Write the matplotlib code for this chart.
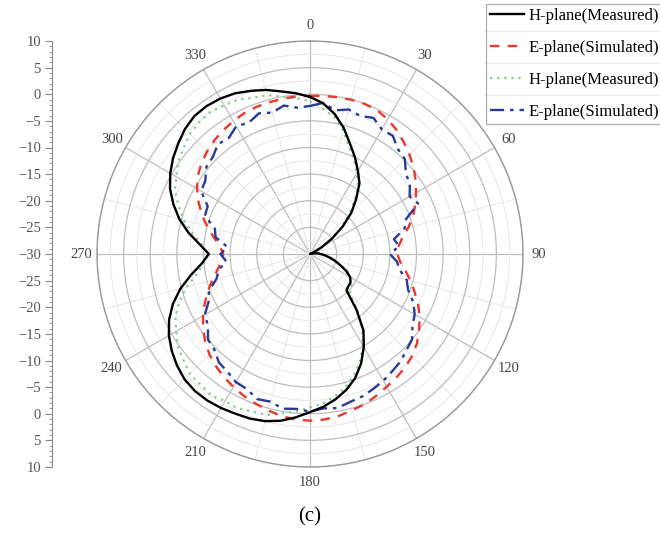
import numpy as np
import matplotlib.pyplot as plt
from matplotlib.ticker import MultipleLocator, FixedLocator
from matplotlib.lines import Line2D

# angles in degrees, 5 deg steps
angles = list(range(0, 360, 5))

h_sim = [-0.5, -1.6, -3.3, -5.5, -8.0, -10.0, -12.0, -13.8, -16.5, -19.0, -22.0, -25.0,
         -27.5, -29.3, -30.0, -29.8, -29.3, -28.6, -28.0, -27.2, -26.3, -25.2, -24.0, -22.5,
         -21.3, -20.7, -20.6, -20.3, -16.5, -12.5, -9.8, -7.3, -5.2, -3.6, -2.3, -1.2,
         -0.3, 0.8, 1.8, 2.5, 2.9, 3.1, 3.4, 3.6, 3.6, 3.3, 2.6, 1.7,
         0.6, -0.8, -2.6, -4.8, -7.3, -9.6, -11.0, -9.2, -6.8, -4.6, -2.7, -1.0,
         0.3, 1.4, 2.3, 3.2, 3.8, 3.9, 3.7, 3.3, 2.6, 1.9, 1.0, 0.3]

e_sim = [-0.3, -0.2, -0.1, 0.0, 0.0, -0.2, -0.8, -1.6, -2.6, -3.6, -4.6, -5.8,
         -7.0, -8.2, -9.4, -10.9, -12.4, -13.3, -13.6, -13.0, -11.8, -10.4, -9.1, -7.6,
         -6.2, -5.0, -3.8, -2.9, -2.2, -1.7, -1.2, -0.6, 0.0, 0.4, 0.9, 1.2,
         1.3, 1.2, 0.9, 0.4, -0.1, -0.6, -1.2, -1.8, -2.5, -3.3, -4.3, -5.5,
         -6.8, -8.2, -9.6, -11.0, -12.3, -13.3, -13.7, -13.0, -11.6, -10.0, -8.4, -6.9,
         -5.5, -4.3, -3.4, -2.7, -2.1, -1.6, -1.2, -0.8, -0.6, -0.5, -0.4, -0.3]

h_meas = [-1.3, -2.6, -3.9, -6.0, -8.6, -10.4, -12.5, -14.3, -17.0, -19.6, -22.4, -25.3,
          -27.2, -28.6, -29.0, -28.4, -28.9, -28.2, -27.6, -27.0, -26.0, -25.0, -23.6, -22.2,
          -21.0, -20.4, -20.0, -19.4, -16.2, -12.8, -10.2, -7.8, -5.8, -4.1, -2.9, -1.8,
          -1.2, -0.3, 0.4, 1.3, 1.5, 2.0, 1.9, 2.4, 2.0, 1.9, 1.0, 0.3,
          -1.0, -2.1, -3.9, -6.0, -8.4, -10.0, -10.8, -9.6, -7.6, -5.4, -3.8, -2.0,
          -1.0, 0.2, 1.0, 1.9, 2.3, 2.6, 2.2, 2.0, 1.2, 0.9, 0.0, -0.6]

e_meas = [-2.2, -1.5, -2.6, -1.9, -2.4, -1.8, -3.0, -2.9, -4.3, -4.8, -6.5, -7.1,
          -8.4, -7.6, -10.8, -11.6, -14.0, -13.2, -15.0, -13.6, -12.9, -11.2, -10.4, -8.6,
          -7.3, -6.5, -5.0, -4.4, -3.6, -3.1, -2.5, -2.0, -1.5, -1.2, -0.6, -0.9,
          -0.4, -0.8, -0.5, -1.3, -1.0, -2.0, -2.2, -3.0, -3.4, -4.6, -5.0, -6.6,
          -7.2, -9.0, -9.8, -11.8, -12.6, -14.2, -13.2, -14.4, -12.0, -11.5, -9.0, -8.8,
          -6.4, -6.0, -4.6, -4.2, -3.1, -3.4, -2.3, -2.8, -1.9, -2.5, -1.7, -2.4]

labels = ["H-plane(Measured)", "E-plane(Simulated)", "H-plane(Measured)", "E-plane(Simulated)"]
angle_ticks = list(range(0, 360, 30))


def closed(vals):
    return np.append(vals, vals[0])


plt.rcParams['font.family'] = ['Liberation Serif', 'DejaVu Serif']

fig = plt.figure(figsize=(6.6, 5.35), dpi=100)

# polar plot
ax = fig.add_axes([97 / 660, 68 / 535, 426 / 660, 426 / 535], projection='polar')
ax.set_theta_zero_location('N')
ax.set_theta_direction(-1)
ax.set_rlim(-30, 10)

th = np.radians(closed(angles))
ax.plot(th, closed(h_sim), color='black', lw=1.7, label=labels[0], zorder=5)
ax.plot(th, closed(e_sim), color='#e8392b', lw=1.7, ls=(0, (4, 3.5)), label=labels[1], zorder=4)
ax.plot(th, closed(h_meas), color='#7fcf8e', lw=1.6, ls=(0, (1, 2.2)), label=labels[2], zorder=3)
ax.plot(th, closed(e_meas), color='#2a3a9a', lw=1.7, ls=(0, (6, 2.5, 1.5, 2.5)), label=labels[3], zorder=4)

ax.set_xticks(np.radians(angle_ticks))
ax.set_xticklabels([str(a) for a in angle_ticks], fontsize=10.5, color='#444444')
ax.xaxis.set_minor_locator(FixedLocator(np.radians(np.arange(15, 360, 30))))
ax.set_yticks(np.arange(-25, 11, 5))
ax.yaxis.set_minor_locator(MultipleLocator(2.5))
ax.set_yticklabels([])
ax.tick_params(axis='x', pad=1)
ax.grid(True, which='major', color='#bdbdbd', lw=0.9)
ax.grid(True, which='minor', color='#e6e6e6', lw=0.7)
ax.spines['polar'].set_color('#9a9a9a')
ax.spines['polar'].set_linewidth(1.0)

# left linear scale
lax = fig.add_axes([52 / 660, 68 / 535, 0.001, 426 / 535])
lax.set_ylim(-40, 40)
lax.set_xticks([])
for s in ['top', 'right', 'bottom']:
    lax.spines[s].set_visible(False)
lax.spines['left'].set_color('#888888')
lax.yaxis.set_minor_locator(MultipleLocator(1))
lax.set_yticks(np.arange(-40, 41, 5))
lax.set_yticklabels([str(int(abs(v) - 30)).replace('-', '\u2212') for v in np.arange(-40, 41, 5)],
                    fontsize=10.5, color='#555555')
lax.tick_params(axis='y', which='major', length=5, color='#888888', pad=3)
lax.tick_params(axis='y', which='minor', length=2.5, color='#888888')

# legend
leg = fig.legend(loc='upper left', bbox_to_anchor=(486 / 660, 1 - 4 / 535), fontsize=12,
                 frameon=True, fancybox=False, edgecolor='#999999', handlelength=2.0,
                 handletextpad=0.3, labelspacing=0.95, borderpad=0.25, borderaxespad=0)
leg.get_frame().set_linewidth(0.9)
for yy in [31, 63, 95]:
    fig.add_artist(Line2D([486 / 660, 1.0], [1 - yy / 535, 1 - yy / 535],
                          color='#aaaaaa', lw=0.9, transform=fig.transFigure))

fig.text(310 / 660, 1 - 517 / 535, "(c)", ha='center', va='center', fontsize=15)

fig.savefig('out.png', dpi=100)
